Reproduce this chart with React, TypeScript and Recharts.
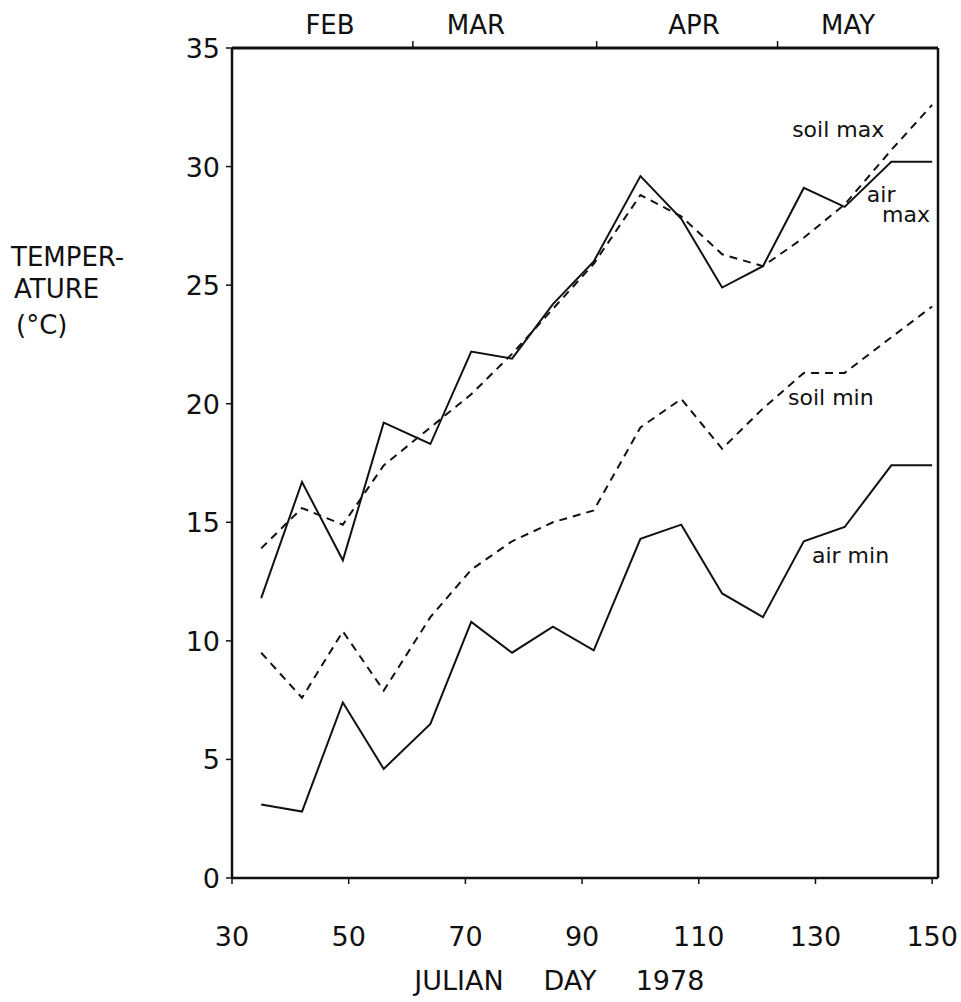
import { LineChart, Line, XAxis, YAxis, ReferenceDot, Customized } from "recharts";

// weekly readings, Julian day 1978
const days = [35, 42, 49, 56, 64, 71, 78, 85, 92, 100, 107, 114, 121, 128, 135, 143, 150];
const airMax = [11.8, 16.7, 13.4, 19.2, 18.3, 22.2, 21.9, 24.2, 26.0, 29.6, 27.8, 24.9, 25.8, 29.1, 28.3, 30.2, 30.2];
const soilMax = [13.9, 15.6, 14.9, 17.4, 19.0, 20.4, 22.1, 24.0, 25.9, 28.8, 27.9, 26.3, 25.8, 27.0, 28.4, 30.7, 32.6];
const soilMin = [9.5, 7.6, 10.4, 7.9, 11.0, 13.0, 14.2, 15.0, 15.5, 19.0, 20.2, 18.1, 19.8, 21.3, 21.3, 22.8, 24.1];
const airMin = [3.1, 2.8, 7.4, 4.6, 6.5, 10.8, 9.5, 10.6, 9.6, 14.3, 14.9, 12.0, 11.0, 14.2, 14.8, 17.4, 17.4];

const dayTicks = [30, 50, 70, 90, 110, 130, 150];
const tempTicks = [0, 5, 10, 15, 20, 25, 30, 35];

// month strip along the top edge
const monthNames = ["FEB", "MAR", "APR", "MAY"];
const monthCenters = [46.8, 71.8, 109.2, 135.6];
const monthBounds = [61, 92.5, 123.5];

// curve names written beside the lines: [text, day, temp]
const curveNames: [string, number, number][] = [
  ["soil max", 126.0, 31.25],
  ["air", 138.8, 28.5],
  ["max", 141.4, 27.67],
  ["soil min", 125.3, 19.95],
  ["air min", 129.4, 13.3],
];

const rows = days.map((d, i) => ({
  day: d,
  airMax: airMax[i],
  soilMax: soilMax[i],
  soilMin: soilMin[i],
  airMin: airMin[i],
}));

const INK = "#111";
const FONT = "DejaVu Sans, sans-serif";

const DayTick = (props: any) => {
  const { x, y, payload } = props;
  return (
    <text x={x} y={y + 60} textAnchor="middle" fontFamily={FONT} fontSize={27} fill={INK}>
      {payload.value}
    </text>
  );
};

const TempTick = (props: any) => {
  const { x, y, payload } = props;
  return (
    <text x={x - 4} y={y} dy={10} textAnchor="end" fontFamily={FONT} fontSize={27} fill={INK}>
      {payload.value}
    </text>
  );
};

const MonthTick = (props: any) => {
  const { x, y, payload } = props;
  const b = monthBounds.indexOf(payload.value);
  if (b >= 0) {
    return <line x1={x} x2={x} y1={y} y2={y - 7} stroke={INK} strokeWidth={1.5} />;
  }
  const m = monthCenters.indexOf(payload.value);
  return (
    <text x={x} y={y - 14} textAnchor="middle" fontFamily={FONT} fontSize={26} fill={INK}>
      {monthNames[m]}
    </text>
  );
};

const Titles = () => (
  <g fontFamily={FONT} fill={INK}>
    <text x={11} y={266} fontSize={26}>TEMPER-</text>
    <text x={14} y={298} fontSize={26}>ATURE</text>
    <text x={16} y={334} fontSize={26}>(°C)</text>
    <text x={459} y={990} fontSize={27} textAnchor="middle">JULIAN</text>
    <text x={570} y={990} fontSize={27} textAnchor="middle">DAY</text>
    <text x={670} y={990} fontSize={27} textAnchor="middle">1978</text>
  </g>
);

const CurveName = (text: string) => (p: any) => (
  <text x={p.cx} y={p.cy} fontFamily={FONT} fontSize={22} fill={INK}>
    {text}
  </text>
);

export default function App() {
  return (
    <div style={{ position: "absolute", left: 0, top: 0, background: "#fff" }}>
      <LineChart width={961} height={1002} data={rows} margin={{ top: 0, right: 0, bottom: 0, left: 0 }}>
        <XAxis
          xAxisId="bottom"
          type="number"
          dataKey="day"
          domain={[30, 151]}
          ticks={dayTicks}
          interval={0}
          height={124}
          tickSize={6}
          tick={<DayTick />}
          axisLine={{ stroke: INK, strokeWidth: 2.5 }}
          tickLine={{ stroke: INK, strokeWidth: 1.5 }}
        />
        <XAxis
          xAxisId="top"
          orientation="top"
          type="number"
          dataKey="day"
          domain={[30, 151]}
          ticks={[...monthBounds, ...monthCenters]}
          interval={0}
          height={48}
          tickSize={0}
          tickMargin={0}
          tick={<MonthTick />}
          tickLine={false}
          axisLine={{ stroke: INK, strokeWidth: 3 }}
        />
        <YAxis
          yAxisId="left"
          type="number"
          domain={[0, 35]}
          ticks={tempTicks}
          interval={0}
          width={232}
          tickSize={6}
          tick={<TempTick />}
          axisLine={{ stroke: INK, strokeWidth: 2.5 }}
          tickLine={{ stroke: INK, strokeWidth: 1.5 }}
        />
        <YAxis
          yAxisId="right"
          orientation="right"
          type="number"
          domain={[0, 35]}
          width={23}
          tick={false}
          tickLine={false}
          axisLine={{ stroke: INK, strokeWidth: 2.5 }}
        />
        <Line xAxisId="bottom" yAxisId="left" type="linear" dataKey="soilMax" stroke={INK} strokeWidth={2} strokeDasharray="8 6" dot={false} isAnimationActive={false} />
        <Line xAxisId="bottom" yAxisId="left" type="linear" dataKey="airMax" stroke={INK} strokeWidth={2} dot={false} isAnimationActive={false} />
        <Line xAxisId="bottom" yAxisId="left" type="linear" dataKey="soilMin" stroke={INK} strokeWidth={2} strokeDasharray="8 6" dot={false} isAnimationActive={false} />
        <Line xAxisId="bottom" yAxisId="left" type="linear" dataKey="airMin" stroke={INK} strokeWidth={2} dot={false} isAnimationActive={false} />
        {curveNames.map(([text, d, t]) => (
          <ReferenceDot key={text + d} xAxisId="bottom" yAxisId="left" x={d} y={t} r={0} shape={CurveName(text)} />
        ))}
        <Customized component={<Titles />} />
      </LineChart>
    </div>
  );
}
